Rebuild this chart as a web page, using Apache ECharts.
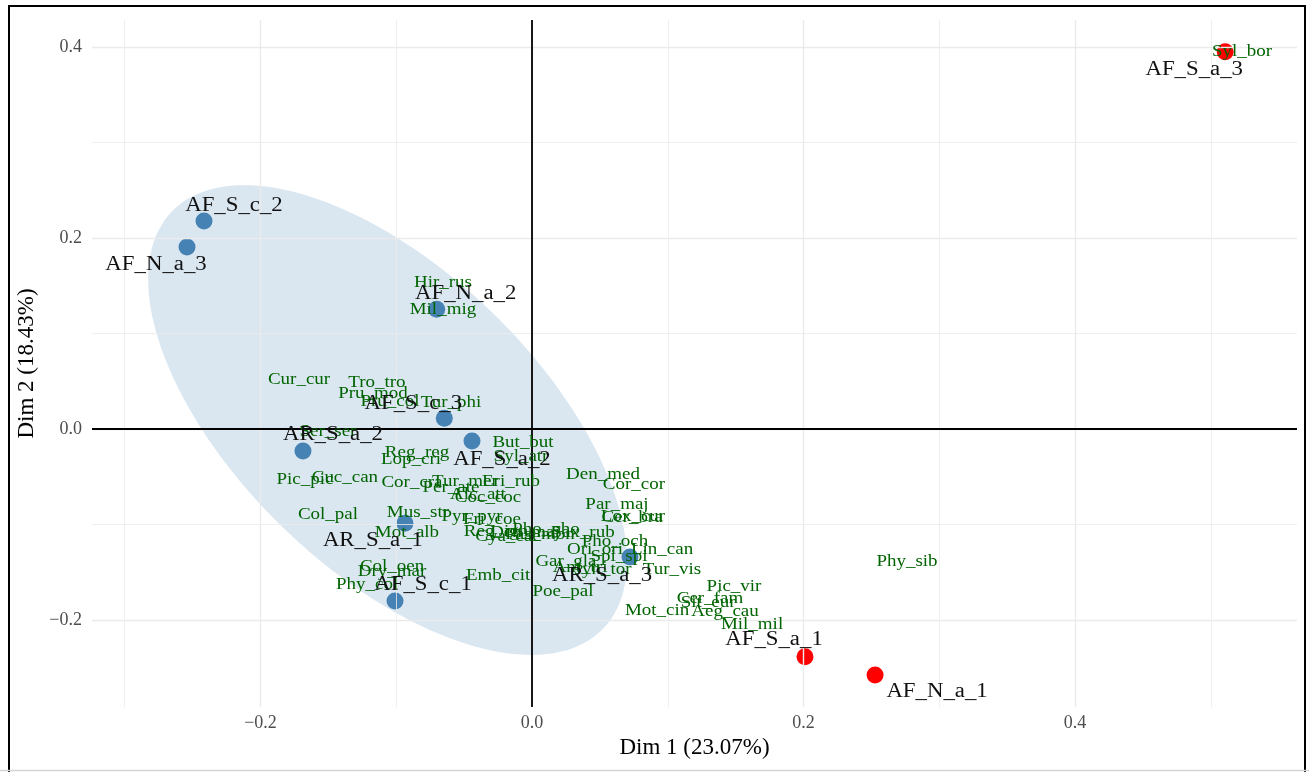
<!DOCTYPE html>
<html>
<head>
<meta charset="utf-8">
<title>CA biplot – Dim 1 / Dim 2</title>
<script src="https://cdn.jsdelivr.net/npm/echarts@6/dist/echarts.min.js"></script>
<style>
  html, body { margin: 0; padding: 0; background: #fff; }
  #chart { width: 1309px; height: 772px; }
</style>
</head>
<body>
<div id="chart"></div>
<script>
// ---- Sites (rows) ----
const siteNames   = ['AF_S_c_2', 'AF_N_a_3', 'AF_N_a_2', 'AF_S_c_3', 'AR_S_a_2', 'AF_S_a_2',
                     'AR_S_a_1', 'AF_S_c_1', 'AR_S_a_3', 'AF_S_a_3', 'AF_S_a_1', 'AF_N_a_1'];
const siteDim1    = [-0.2416, -0.2541, -0.0702, -0.0646, -0.1687, -0.0442,
                     -0.0936, -0.1009, 0.0722, 0.5106, 0.2011, 0.2527];
const siteDim2    = [0.2178, 0.1906, 0.1253, 0.0112, -0.0230, -0.0126,
                     -0.0988, -0.1801, -0.1340, 0.3951, -0.2384, -0.2576];
const siteCluster = [1, 1, 1, 1, 1, 1, 1, 1, 1, 2, 2, 2];

// ---- Species (columns) ----
const speciesNames = ['Syl_bor', 'Hir_rus', 'Mil_mig', 'Cur_cur', 'Tro_tro', 'Pru_mod', 'Pru_col', 'Tur_phi',
  'Ser_ser', 'Reg_reg', 'Lop_cri', 'But_but', 'Syl_atr', 'Pic_pic', 'Cuc_can', 'Cor_cra', 'Tur_mer',
  'Eri_rub', 'Per_ate', 'Alc_att', 'Coc_coc', 'Col_pal', 'Mus_str', 'Pyr_pyr', 'Fri_coe', 'Mot_alb',
  'Reg_ign', 'Cya_cae', 'Den_maj', 'Pho_pho', 'Pas_mon', 'Sax_rub', 'Den_med', 'Cor_cor', 'Par_maj',
  'Cer_bra', 'Lox_cur', 'Pho_och', 'Ori_ori', 'Lin_can', 'Spi_spi', 'Gar_gla', 'Ant_tri', 'Jyn_tor',
  'Tur_vis', 'Emb_cit', 'Poe_pal', 'Col_oen', 'Dry_mar', 'Phy_col', 'Pic_vir', 'Cer_fam', 'Sit_eur',
  'Mot_cin', 'Aeg_cau', 'Mil_mil', 'Phy_sib'];
const speciesDim1 = [0.5230, -0.0656, -0.0656, -0.1716, -0.1142, -0.1171, -0.1046, -0.0597,
  -0.1503, -0.0847, -0.0891, -0.0066, -0.0081, -0.1672, -0.1378, -0.0884, -0.0494,
  -0.0155, -0.0597, -0.0398, -0.0324, -0.1503, -0.0840, -0.0442, -0.0295, -0.0921,
  -0.0265, -0.0177, -0.0052, 0.0103, 0.0059, 0.0376, 0.0523, 0.0751, 0.0626,
  0.0737, 0.0744, 0.0611, 0.0464, 0.0958, 0.0641, 0.0250, 0.0354, 0.0523,
  0.1031, -0.0250, 0.0228, -0.1031, -0.1031, -0.1215, 0.1488, 0.1311, 0.1297,
  0.0921, 0.1422, 0.1621, 0.2762];
const speciesDim2 = [0.3948, 0.1529, 0.1246, 0.0513, 0.0482, 0.0366, 0.0283, 0.0272,
  -0.0031, -0.0251, -0.0325, -0.0147, -0.0293, -0.0534, -0.0513, -0.0565, -0.0555,
  -0.0555, -0.0618, -0.0691, -0.0723, -0.0901, -0.0880, -0.0921, -0.0953, -0.1089,
  -0.1079, -0.1131, -0.1089, -0.1058, -0.1110, -0.1089, -0.0482, -0.0586, -0.0796,
  -0.0932, -0.0922, -0.1183, -0.1267, -0.1267, -0.1340, -0.1393, -0.1455, -0.1476,
  -0.1476, -0.1539, -0.1707, -0.1445, -0.1497, -0.1634, -0.1654, -0.1780, -0.1822,
  -0.1906, -0.1916, -0.2052, -0.1393];

// ---- Axes ----
const dim1Range = [-0.3241, 0.5635];
const dim2Range = [-0.2911, 0.4283];
const tickValues = [-0.2, 0, 0.2, 0.4];
const dim1Minor = [-0.3, -0.1, 0.1, 0.3, 0.5];
const dim2Minor = [-0.1, 0.1, 0.3];

// ---- Cluster 1 concentration ellipse (centre and two semi-axis vectors, in Dim units) ----
const ellipseCenter = [-0.1064, 0.0094];
const ellipseAxisA  = [0.1587, -0.2186];
const ellipseAxisB  = [0.0769, 0.1128];

// label placement for the site names (pixel shift from the point)
const siteLabelShift = {
  'AF_S_c_2': [30, -15], 'AF_N_a_3': [-31, 18], 'AF_N_a_2': [29, -16], 'AF_S_c_3': [-31, -15],
  'AR_S_a_2': [30, -16], 'AF_S_a_2': [30, 19], 'AR_S_a_1': [-32, 17], 'AF_S_c_1': [28, -16],
  'AR_S_a_3': [-28, 19], 'AF_S_a_3': [-31, 18], 'AF_S_a_1': [-31, -17], 'AF_N_a_1': [62, 17]
};

const SERIF = '"Liberation Serif", "Times New Roman", serif';
const BLUE = '#4682B4', RED = '#FF0000', GREEN = '#006400';

function fmtTick(v) {
  if (Math.abs(v) < 1e-9) return '0.0';
  return (v < 0 ? '\u2212' : '') + Math.abs(v).toFixed(1);
}

const gridLines = [];
tickValues.forEach(v => { gridLines.push({ xAxis: v, lineStyle: { width: 1.4 } }); gridLines.push({ yAxis: v, lineStyle: { width: 1.4 } }); });
dim1Minor.forEach(v => gridLines.push({ xAxis: v, lineStyle: { width: 0.8 } }));
dim2Minor.forEach(v => gridLines.push({ yAxis: v, lineStyle: { width: 0.8 } }));

const sitePoints = c => siteDim1.map((x, i) => siteCluster[i] === c ? [x, siteDim2[i]] : null).filter(Boolean);

const chart = echarts.init(document.getElementById('chart'), null, { renderer: 'canvas' });
chart.setOption({
  animation: false,
  backgroundColor: '#fff',
  grid: { left: 92, right: 12, top: 20, bottom: 65 },
  xAxis: {
    type: 'value', min: dim1Range[0], max: dim1Range[1],
    name: 'Dim 1 (23.07%)', nameLocation: 'middle', nameGap: 29,
    nameTextStyle: { fontFamily: SERIF, fontSize: 23, color: '#000' },
    axisLine: { show: false }, axisTick: { show: false }, splitLine: { show: false },
    axisLabel: { customValues: tickValues, formatter: fmtTick, fontFamily: SERIF, fontSize: 18, color: '#4d4d4d', margin: 7 }
  },
  yAxis: {
    type: 'value', min: dim2Range[0], max: dim2Range[1],
    name: 'Dim 2 (18.43%)', nameLocation: 'middle', nameGap: 44,
    nameTextStyle: { fontFamily: SERIF, fontSize: 23, color: '#000' },
    axisLine: { show: false }, axisTick: { show: false }, splitLine: { show: false },
    axisLabel: { customValues: tickValues, formatter: fmtTick, fontFamily: SERIF, fontSize: 18, color: '#4d4d4d', margin: 10 }
  },
  graphic: [
    { type: 'rect', z: 100, silent: true, shape: { x: 9, y: 6, width: 1296, height: 770 },
      style: { fill: 'none', stroke: '#000', lineWidth: 2 } },
    { type: 'line', z: 100, silent: true, shape: { x1: 0, y1: 770.5, x2: 1309, y2: 770.5 },
      style: { stroke: '#d4d4d4', lineWidth: 1.5 } }
  ],
  series: [
    { // panel grid
      type: 'line', z: 1, data: [], silent: true,
      markLine: { silent: true, symbol: ['none', 'none'], label: { show: false }, animation: false,
        lineStyle: { color: '#ebebeb', type: 'solid' }, data: gridLines }
    },
    { // concentration ellipse of cluster 1
      type: 'custom', z: 2, silent: true,
      data: [ellipseCenter],
      renderItem: function (params, api) {
        const pts = [];
        const n = 160;
        for (let i = 0; i < n; i++) {
          const t = i / n * Math.PI * 2, c = Math.cos(t), s = Math.sin(t);
          pts.push(api.coord([
            ellipseCenter[0] + c * ellipseAxisA[0] + s * ellipseAxisB[0],
            ellipseCenter[1] + c * ellipseAxisA[1] + s * ellipseAxisB[1]
          ]));
        }
        return { type: 'polygon', shape: { points: pts }, style: { fill: 'rgba(70,130,180,0.2)' } };
      }
    },
    { // origin axes
      type: 'line', z: 3, data: [], silent: true,
      markLine: { silent: true, symbol: ['none', 'none'], label: { show: false }, animation: false,
        lineStyle: { color: '#000', type: 'solid', width: 1.8 }, data: [{ xAxis: 0 }, { yAxis: 0 }] }
    },
    { type: 'scatter', name: 'cluster 1', z: 4, symbolSize: 17, itemStyle: { color: BLUE, opacity: 1 }, data: sitePoints(1) },
    { type: 'scatter', name: 'cluster 2', z: 4, symbolSize: 17, itemStyle: { color: RED, opacity: 1 }, data: sitePoints(2) },
    { // site names
      type: 'custom', z: 6, silent: true,
      data: siteDim1.map((x, i) => [x, siteDim2[i]]),
      renderItem: function (params, api) {
        const name = siteNames[params.dataIndex];
        const p = api.coord([api.value(0), api.value(1)]);
        const d = siteLabelShift[name] || [0, -16];
        return { type: 'text', x: p[0] + d[0], y: p[1] + d[1], scaleX: 1.14,
          style: { text: name, fill: '#111', font: '20px ' + SERIF, align: 'center', verticalAlign: 'middle' } };
      }
    },
    { // species names
      type: 'custom', z: 5, silent: true,
      data: speciesDim1.map((x, i) => [x, speciesDim2[i]]),
      renderItem: function (params, api) {
        const p = api.coord([api.value(0), api.value(1)]);
        return { type: 'text', x: p[0], y: p[1], scaleX: 1.15,
          style: { text: speciesNames[params.dataIndex], fill: GREEN, font: '16.5px ' + SERIF, align: 'center', verticalAlign: 'middle' } };
      }
    }
  ]
});
</script>
</body>
</html>
